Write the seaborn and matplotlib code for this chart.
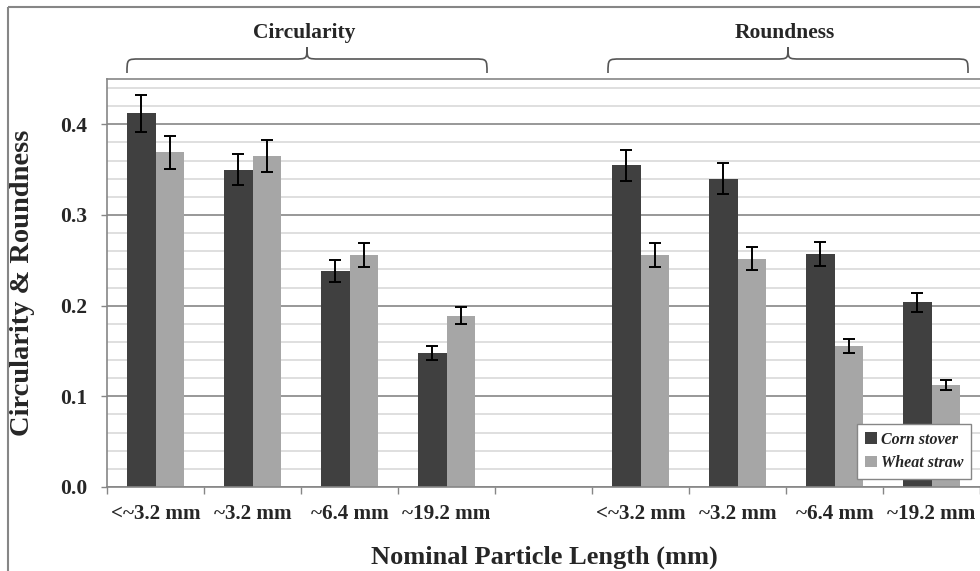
import matplotlib
matplotlib.use("Agg")
import matplotlib.pyplot as plt
import seaborn as sns
import pandas as pd
import numpy as np
from matplotlib.path import Path
from matplotlib.patches import PathPatch, Rectangle

# ---- data ----
categories = ["<~3.2 mm", "~3.2 mm", "~6.4 mm", "~19.2 mm"]
species = ["Corn stover", "Wheat straw"]

circ_corn = [0.412, 0.350, 0.238, 0.148]
circ_corn_err = [0.020, 0.017, 0.012, 0.0075]
circ_wheat = [0.369, 0.365, 0.256, 0.189]
circ_wheat_err = [0.018, 0.018, 0.013, 0.0095]

round_corn = [0.355, 0.340, 0.257, 0.204]
round_corn_err = [0.017, 0.017, 0.013, 0.0105]
round_wheat = [0.256, 0.252, 0.155, 0.112]
round_wheat_err = [0.013, 0.0127, 0.0077, 0.0055]

colors = {"Corn stover": "#404040", "Wheat straw": "#a6a6a6"}

# ---- long table ----
rows = []
for metric, corn, corn_e, wheat, wheat_e in [
    ("Circularity", circ_corn, circ_corn_err, circ_wheat, circ_wheat_err),
    ("Roundness", round_corn, round_corn_err, round_wheat, round_wheat_err),
]:
    for i, cat in enumerate(categories):
        rows.append(dict(slot=f"{metric}|{cat}", label=cat, species="Corn stover",
                         value=corn[i], err=corn_e[i]))
        rows.append(dict(slot=f"{metric}|{cat}", label=cat, species="Wheat straw",
                         value=wheat[i], err=wheat_e[i]))
df = pd.DataFrame(rows)

order = [f"Circularity|{c}" for c in categories] + ["gap"] + \
        [f"Roundness|{c}" for c in categories]
tick_labels = categories + [""] + categories

sns.set_theme(style="white")
plt.rcParams["font.family"] = ["Liberation Serif", "DejaVu Serif"]
plt.rcParams["font.weight"] = "bold"

W, H = 980, 571
fig = plt.figure(figsize=(W / 100, H / 100), dpi=100)
fig.patch.set_facecolor("white")

ax = fig.add_axes([107 / W, 1 - 487 / H, 873 / W, (487 - 79) / H])

sns.barplot(data=df, x="slot", y="value", hue="species", order=order,
            hue_order=species, palette=colors, width=0.58, dodge=True,
            errorbar=None, saturation=1, linewidth=0, ax=ax, legend=True)

# error bars at each bar top
err_lookup = {(r.species, order.index(r.slot)): r.err for r in df.itertuples()}
for sp, cont in zip(species, ax.containers):
    for bar in cont:
        xc = bar.get_x() + bar.get_width() / 2
        h = bar.get_height()
        e = err_lookup[(sp, int(round(xc)))]
        ax.errorbar(xc, h, yerr=e, fmt="none", ecolor="black",
                    elinewidth=1.4, capsize=4, capthick=1.4, zorder=5)

# axes styling
ax.set_xlim(-0.5, len(order) - 0.5)
ax.set_ylim(0, 0.45)
ax.set_yticks(np.arange(0, 0.41, 0.1))
ax.set_yticklabels([f"{v:.1f}" for v in np.arange(0, 0.41, 0.1)])
ax.set_yticks(np.arange(0, 0.45, 0.02), minor=True)
ax.set_xticks(range(len(order)))
ax.set_xticklabels(tick_labels)
ax.set_xticks(np.arange(-0.5, len(order), 1.0), minor=True)
ax.tick_params(axis="x", which="major", length=0, pad=12, labelsize=15.2)
ax.tick_params(axis="x", which="minor", length=5, width=1, color="#868686",
               direction="out", bottom=True)
ax.tick_params(axis="y", which="major", length=4, width=1, color="#868686",
               direction="out", left=True, labelsize=15.5, pad=10)
ax.tick_params(axis="y", which="minor", length=0)
for lab in ax.get_xticklabels() + ax.get_yticklabels():
    lab.set_fontweight("bold")

ax.grid(False)
ax.yaxis.grid(True, which="minor", color="#d9d9d9", linewidth=1.2)
ax.yaxis.grid(True, which="major", color="#868686", linewidth=1.2)
ax.set_axisbelow(True)
for side in ["top", "left", "bottom"]:
    ax.spines[side].set_color("#868686")
    ax.spines[side].set_linewidth(1.2)
ax.spines["right"].set_visible(False)

ax.set_xlabel("Nominal Particle Length (mm)", fontsize=19, fontweight="bold")
ax.set_ylabel("Circularity & Roundness", fontsize=20.5, fontweight="bold")
ax.xaxis.label.set_va("center")
ax.yaxis.label.set_va("center")
ax.xaxis.set_label_coords((544 - 107) / 873, -(557 - 487) / 408)
ax.yaxis.set_label_coords(-(107 - 23) / 873, (487 - 283) / 408)

leg = ax.legend(loc="lower right", bbox_to_anchor=(0.9897, 0.0196),
                borderaxespad=0,
                handlelength=0.75, handleheight=0.75, handletextpad=0.2,
                labelspacing=0.45, borderpad=0.5, fancybox=False,
                framealpha=1, edgecolor="#868686",
                prop=dict(family="Liberation Serif", weight="bold",
                          style="italic", size=11.5))
leg.get_frame().set_linewidth(1.0)

# ---- overlay in pixel coordinates: border, braces and group titles ----
ov = fig.add_axes([0, 0, 1, 1], facecolor="none")
ov.set_xlim(0, W)
ov.set_ylim(H, 0)
ov.axis("off")
ov.add_patch(Rectangle((8, 7), W + 20, H + 20, fill=False,
                       edgecolor="#868686", linewidth=1.5))


def brace(x0, x1, y_bottom, y_mid, y_peak):
    xm = (x0 + x1) / 2
    r = 13
    verts = [
        (x0, y_bottom),
        (x0, y_mid), (x0, y_mid), (x0 + r, y_mid),
        (xm - r, y_mid),
        (xm, y_mid), (xm, y_mid), (xm, y_peak),
        (xm, y_mid), (xm, y_mid), (xm + r, y_mid),
        (x1 - r, y_mid),
        (x1, y_mid), (x1, y_mid), (x1, y_bottom),
    ]
    codes = [Path.MOVETO,
             Path.CURVE4, Path.CURVE4, Path.CURVE4,
             Path.LINETO,
             Path.CURVE4, Path.CURVE4, Path.CURVE4,
             Path.CURVE4, Path.CURVE4, Path.CURVE4,
             Path.LINETO,
             Path.CURVE4, Path.CURVE4, Path.CURVE4]
    ov.add_patch(PathPatch(Path(verts, codes), fill=False,
                           edgecolor="#555555", linewidth=1.2))


brace(127, 487, 73, 59, 47)
brace(608, 968, 73, 59, 47)
ov.text(304, 33, "Circularity", ha="center", va="center", fontsize=15.5,
        fontweight="bold")
ov.text(785, 33, "Roundness", ha="center", va="center", fontsize=15.5,
        fontweight="bold")

fig.savefig("out.png", dpi=100, facecolor="white")
